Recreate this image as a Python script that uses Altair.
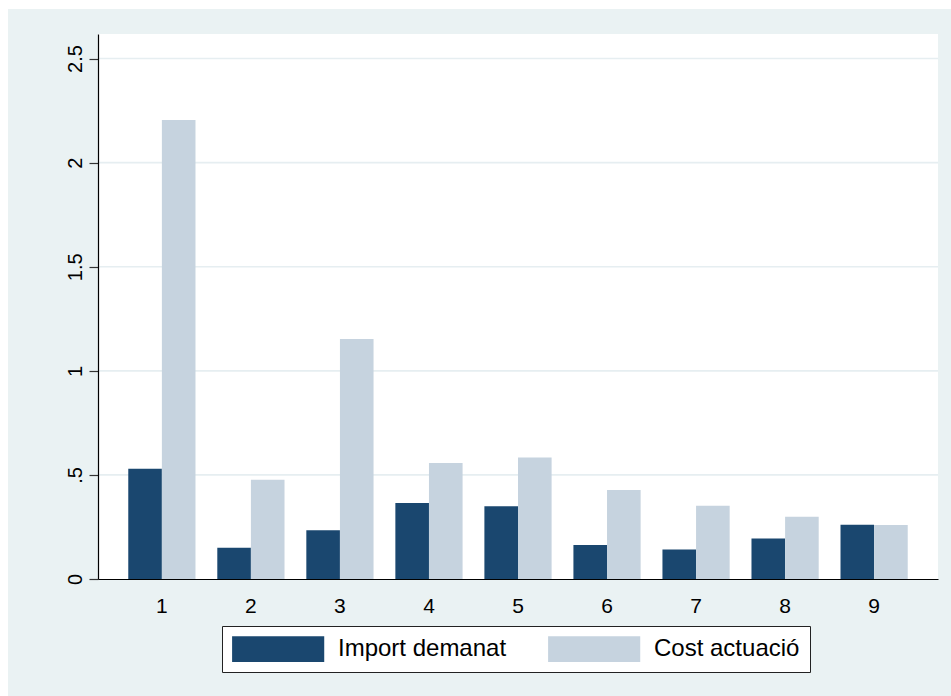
import altair as alt
import pandas as pd

# Grouped bars: requested amount vs. cost of the action, per group
groups = ["1", "2", "3", "4", "5", "6", "7", "8", "9"]
import_demanat = [0.530, 0.150, 0.234, 0.365, 0.350, 0.163, 0.142, 0.195, 0.261]
cost_actuacio = [2.205, 0.477, 1.153, 0.557, 0.584, 0.427, 0.352, 0.299, 0.259]
series = ["Import demanat", "Cost actuació"]
colors = ["#1a476f", "#c6d3df"]
y_ticks = [0, 0.5, 1, 1.5, 2, 2.5]

rows = []
for g, a, b in zip(groups, import_demanat, cost_actuacio):
    rows.append({"grup": g, "serie": series[0], "valor": a})
    rows.append({"grup": g, "serie": series[1], "valor": b})
df = pd.DataFrame(rows)

W, H = 840, 545
FONT = "Liberation Sans"
y_scale = alt.Scale(domain=[0, 2.618], nice=False, zero=True)
y_axis = alt.Axis(
    title=None, values=y_ticks, grid=False, zindex=1,
    labelExpr="(datum.value > 0 && datum.value < 1) ? substring(format(datum.value, '~g'), 1) : format(datum.value, '~g')",
    labelAngle=270, labelAlign="center", labelBaseline="alphabetic",
    labelPadding=8, labelFontSize=20, labelFont=FONT, labelColor="black",
    tickSize=9, tickColor="#333333", tickWidth=1.2,
    domainColor="black", domainWidth=1.2,
)

# outer light panel and white plot region
panel = alt.Chart(alt.Data(values=[{}])).mark_rect(color="#eaf2f3").encode(
    x=alt.value(-90), x2=alt.value(900), y=alt.value(-25), y2=alt.value(700)
)
plot_bg = alt.Chart(alt.Data(values=[{}])).mark_rect(color="white").encode(
    x=alt.value(0), x2=alt.value(W), y=alt.value(0), y2=alt.value(H)
)

# horizontal grid lines at the y tick values
grid = alt.Chart(pd.DataFrame({"valor": y_ticks[1:]})).mark_rule(
    color="#e6eef1", strokeWidth=1.6
).encode(y=alt.Y("valor:Q", scale=y_scale, axis=y_axis))

bars = alt.Chart(df).mark_bar().encode(
    x=alt.X(
        "grup:N",
        sort=groups,
        scale=alt.Scale(paddingInner=0.245, paddingOuter=0.34),
        axis=alt.Axis(
            title=None, labelAngle=0, ticks=False, tickSize=0, labelPadding=16,
            labelFontSize=21, labelFont=FONT, labelColor="black",
            domainColor="black", domainWidth=1.2, grid=False, zindex=1,
        ),
    ),
    xOffset=alt.XOffset("serie:N", sort=series, scale=alt.Scale(paddingInner=0, paddingOuter=0)),
    y=alt.Y("valor:Q", scale=y_scale, axis=y_axis),
    color=alt.Color(
        "serie:N",
        sort=series,
        scale=alt.Scale(domain=series, range=colors),
        legend=alt.Legend(
            title=None, orient="none", legendX=124, legendY=592,
            direction="horizontal", columns=2,
            # wide swatch drawn to the right of a 26px layout symbol
            symbolType="M-1,-1H6.14V1H-1Z", symbolSize=666,
            symbolStrokeWidth=0, symbolOpacity=1,
            labelFontSize=24, labelFont=FONT, labelColor="black", labelLimit=400,
            labelOffset=80, columnPadding=41, padding=10,
            fillColor="white", strokeColor="#222222",
        ),
    ),
)

chart = (
    alt.layer(panel, plot_bg, grid, bars)
    .properties(
        width=W, height=H,
        autosize=alt.AutoSizeParams(type="none"),
        padding={"left": 98, "top": 34, "right": 13, "bottom": 117},
        background="white",
    )
    .configure_view(stroke=None)
)

chart.save("out.html", embed_options={"renderer": "svg", "actions": False})
